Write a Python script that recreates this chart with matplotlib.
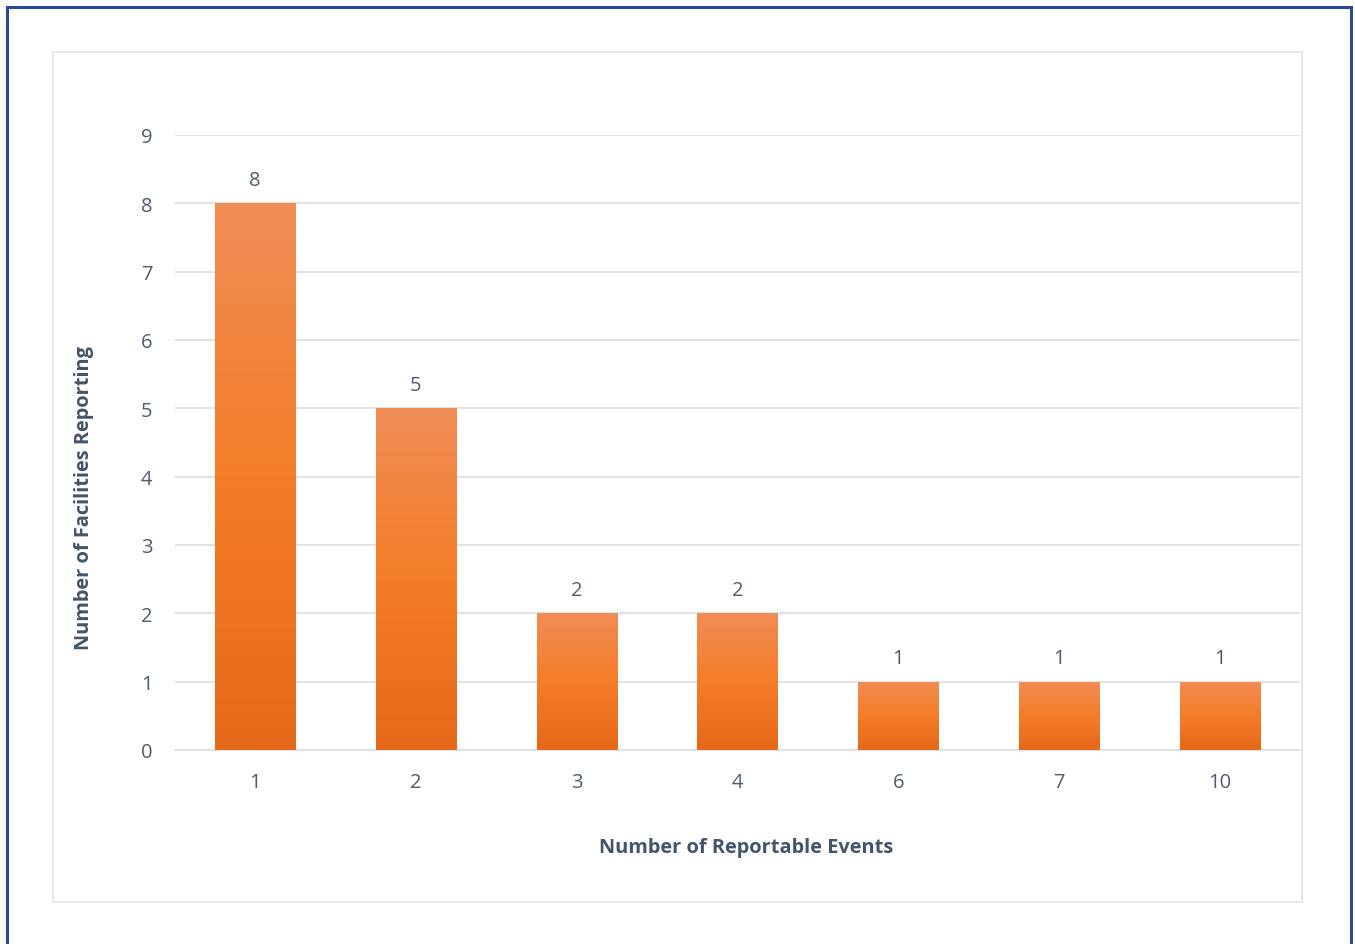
import numpy as np
import matplotlib
matplotlib.use("Agg")
import matplotlib.pyplot as plt
from matplotlib.colors import LinearSegmentedColormap
from matplotlib.patches import Rectangle

# data
eventos = ["1", "2", "3", "4", "6", "7", "10"]
instalaciones = [8, 5, 2, 2, 1, 1, 1]
yticks = list(range(0, 10))

TEXTO = "#44546A"
ETIQ = "#4F5B6E"
REJILLA = "#DCDFE4"

plt.rcParams['font.family'] = ['Open Sans', 'DejaVu Sans']

fig = plt.figure(figsize=(13.55, 9.45), dpi=100)
ax = fig.add_axes([0.129, 0.2053, 0.8305, 0.6508])

# marcos: azul exterior y gris interior
fig.patches.append(Rectangle((7 / 1355, -0.01), 1344 / 1355, 1 - 8 / 945 + 0.01,
                             transform=fig.transFigure, fill=False,
                             edgecolor="#2B4A9B", linewidth=2.2))
fig.patches.append(Rectangle((53 / 1355, 1 - 903 / 945), 1249 / 1355, 850 / 945,
                             transform=fig.transFigure, fill=False,
                             edgecolor="#E1E4E8", linewidth=1.2))

x = np.arange(len(eventos))
barras = ax.bar(x, instalaciones, width=0.5, color="none", zorder=3)

grad = LinearSegmentedColormap.from_list(
    "naranja", ["#E4691A", "#F47D28", "#F08D57"])
img = np.linspace(0, 1, 256).reshape(-1, 1)
for b in barras:
    x0, y0 = b.get_x(), b.get_y()
    w, h = b.get_width(), b.get_height()
    im = ax.imshow(img, cmap=grad, aspect="auto", origin="lower",
                   extent=[x0, x0 + w, y0, y0 + h], zorder=3)
    im.set_clip_path(b)

for xi, v in zip(x, instalaciones):
    ax.text(xi, v + 0.2, str(v), ha="center", va="bottom",
            fontsize=14.5, color=ETIQ)

ax.set_xlim(-0.5, len(eventos) - 0.5)
ax.set_ylim(0, 9)
ax.set_yticks(yticks)
ax.set_xticks(x)
ax.set_xticklabels(eventos)
ax.tick_params(axis="both", length=0, labelsize=14.5, labelcolor=ETIQ)
ax.tick_params(axis="y", pad=16)
ax.tick_params(axis="x", pad=16)
ax.grid(axis="y", color=REJILLA, linewidth=1.3, zorder=0)
ax.set_axisbelow(True)
for s in ["top", "right", "left"]:
    ax.spines[s].set_visible(False)
ax.spines["bottom"].set_color(REJILLA)
ax.spines["bottom"].set_linewidth(1.3)

ax.set_xlabel("Number of Reportable Events", fontsize=14.4, fontweight="bold",
              color=TEXTO)
ax.set_ylabel("Number of Facilities Reporting", fontsize=14.4, fontweight="bold",
              color=TEXTO)
ax.xaxis.set_label_coords(0.5076, -0.1415)
ax.yaxis.set_label_coords(-0.072, 0.411)

fig.savefig("out.png", dpi=100)
